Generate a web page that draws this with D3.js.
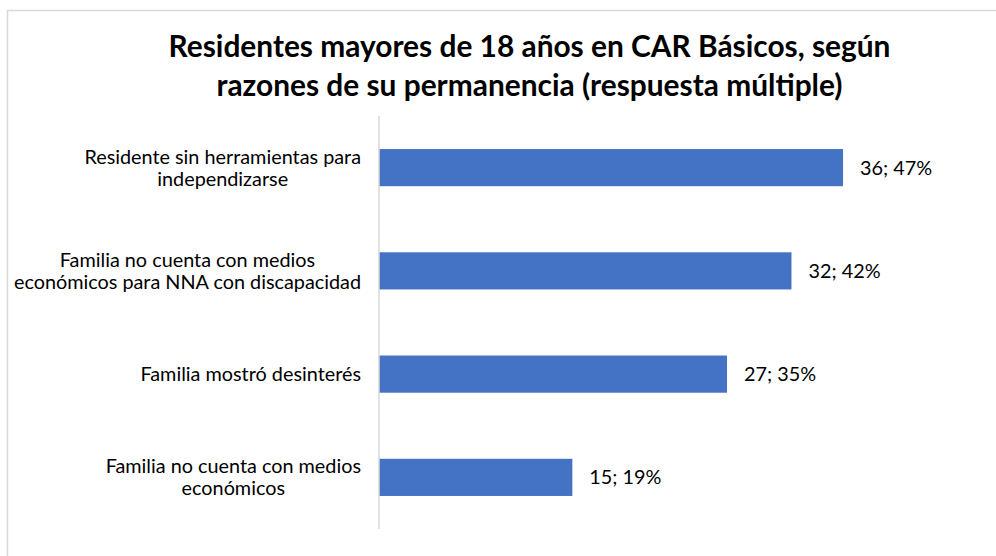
<!DOCTYPE html>
<html>
<head>
<meta charset="utf-8">
<script src="https://cdn.jsdelivr.net/npm/d3@7"></script>
<style>
  html, body { margin: 0; padding: 0; background: #fff; }
  svg { display: block; font-family: Lato, "Noto Sans", sans-serif; }
</style>
</head>
<body>
<div id="chart"></div>
<script>
// data
const titleLines = ['Residentes mayores de 18 años en CAR Básicos, según',
                    'razones de su permanencia (respuesta múltiple)'];
const categories = [
  ['Residente sin herramientas para', 'independizarse'],
  ['Familia no cuenta con medios', 'económicos para NNA con discapacidad'],
  ['Familia mostró desinterés'],
  ['Familia no cuenta con medios', 'económicos']
];
const counts = [36, 32, 27, 15];
const percents = ['47%', '42%', '35%', '19%'];

const W = 996, H = 556;
const svg = d3.select('#chart').append('svg').attr('width', W).attr('height', H);

// chart frame (only top/left visible in the crop)
svg.append('path').attr('d', `M7.5,${H} V10.5 H${W}`)
  .attr('fill', 'none').attr('stroke', '#d9d9d9').attr('stroke-width', 1.5);

// scale font so the summed line widths hit the target
function fitFont(sel, target, base) {
  sel.style('font-size', base + 'px');
  let w = 0;
  sel.each(function(){ w += this.getComputedTextLength(); });
  const size = base * target / w;
  sel.style('font-size', size + 'px');
  return size;
}

// title
const tl = svg.append('g').selectAll('text').data(titleLines).join('text')
  .attr('x', 529.5).attr('y', (d, i) => 57 + i * 39)
  .attr('text-anchor', 'middle').attr('font-weight', 'bold').attr('fill', '#000')
  .text(d => d);
fitFont(tl, 713 + 635, 24);

const x = d3.scaleLinear().domain([0, 40]).range([379, 379 + 40 * 12.89]);
const y = d3.scaleBand().domain(d3.range(categories.length)).range([116, 529])
  .paddingInner(0.64).paddingOuter(0.32);

// bars
svg.append('g').selectAll('rect').data(counts).join('rect')
  .attr('x', x(0)).attr('y', (d, i) => y(i))
  .attr('width', d => x(d) - x(0)).attr('height', y.bandwidth())
  .attr('fill', '#4472c4');

// vertical axis line
svg.append('line').attr('x1', x(0)).attr('x2', x(0)).attr('y1', 116).attr('y2', 529)
  .attr('stroke', '#d9d9d9').attr('stroke-width', 1.5);

// category labels: block right-aligned at 361, lines centred in block
const lineH = 22;
const catG = svg.append('g').selectAll('g').data(categories).join('g');
const catText = catG.selectAll('text').data(d => d).join('text')
  .attr('fill', '#000').text(d => d);
const fs = fitFont(catText, 1590, 16);
catG.each(function(lines, i) {
  const g = d3.select(this);
  let mw = 0;
  g.selectAll('text').each(function(){ mw = Math.max(mw, this.getComputedTextLength()); });
  const cx = 361 - mw / 2;
  const cy = y(i) + y.bandwidth() / 2;
  g.selectAll('text')
    .attr('x', cx).attr('text-anchor', 'middle')
    .attr('y', (d, j) => cy + (j - (lines.length - 1) / 2) * lineH + fs * 0.35);
});

// value labels
svg.append('g').selectAll('text').data(counts).join('text')
  .attr('x', d => x(d) + 17)
  .attr('y', (d, i) => y(i) + y.bandwidth() / 2 + fs * 0.35)
  .attr('fill', '#000').style('font-size', fs + 'px')
  .text((d, i) => `${d}; ${percents[i]}`);
</script>
</body>
</html>
